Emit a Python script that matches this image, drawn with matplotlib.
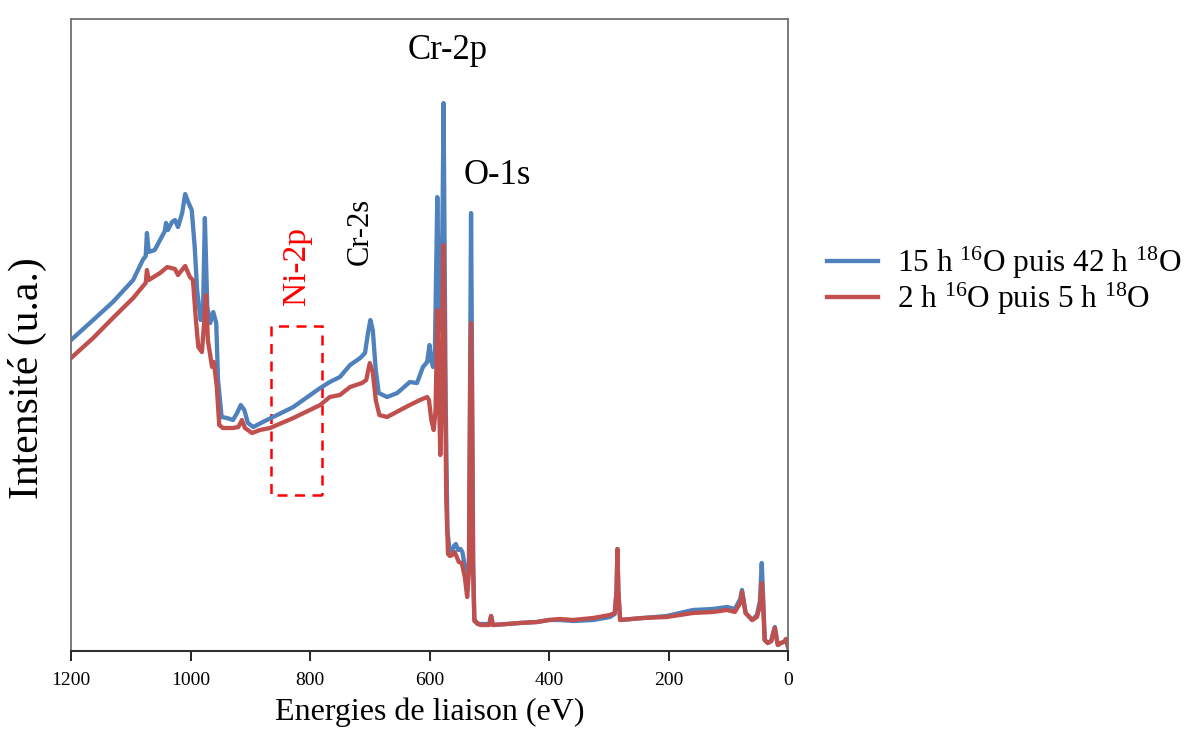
import matplotlib
matplotlib.use("Agg")
import matplotlib.pyplot as plt
from matplotlib.patches import Rectangle

plt.rcParams['font.family'] = ['Liberation Serif', 'DejaVu Serif']
plt.rcParams['mathtext.fontset'] = 'custom'
plt.rcParams['mathtext.rm'] = 'Liberation Serif'
plt.rcParams['mathtext.it'] = 'Liberation Serif:italic'

# binding energy (eV), intensity (a.u.)
energy_15h = [1200, 1163, 1130, 1096, 1080, 1075, 1073, 1070, 1060, 1051, 1043, 1041, 1038,
              1031, 1026, 1021, 1014, 1009, 1004, 998, 993, 989, 983, 979, 977, 976, 974,
              972, 967, 962, 957, 954, 948, 939, 929, 922, 916, 910, 904, 895, 879, 855,
              828, 783, 767, 750, 733, 716, 708, 703, 699, 695, 690, 685, 671, 654, 633,
              621, 611, 604, 600, 597, 594, 591, 589, 587, 585, 582, 580, 578, 576.5, 575,
              573, 570, 567, 563, 559, 556, 552, 548, 545, 541, 537, 534, 532, 530.5, 529,
              527, 525, 520, 510, 500, 497, 494, 470, 449, 420, 400, 382, 360, 326, 298,
              290, 287, 285.5, 284, 281, 243, 203, 159, 126, 102, 89, 80, 77, 74, 71, 60,
              52, 47, 44, 42, 39, 34, 28, 25, 22, 19, 17, 12, 7, 3, 0]
intens_15h = [311, 331, 349, 371, 391, 395, 418, 399, 401, 411, 420, 428, 421,
              429, 431, 424, 438, 457, 449, 441, 404, 361, 331, 344, 400, 433, 390,
              344, 328, 339, 328, 271, 234, 233, 231, 238, 246, 241, 228, 224, 229, 236,
              244, 263, 269, 274, 286, 293, 298, 318, 331, 321, 281, 258, 254, 258, 269,
              268, 284, 289, 306, 290, 284, 300, 380, 454, 380, 321, 340, 450, 548, 420,
              250, 120, 103, 100, 105, 107, 101, 102, 99, 85, 62, 90, 300, 438, 300,
              90, 32, 27, 27, 27, 35, 26, 27, 28, 29, 31, 31, 30, 31, 34,
              37, 60, 102, 60, 31, 33, 35, 41, 42, 44, 42, 52, 61, 50, 38, 31,
              36, 50, 88, 60, 11, 8, 10, 18, 24, 12, 6, 8, 9, 12, 4]

energy_2h = [1200, 1163, 1130, 1096, 1078, 1075, 1073, 1070, 1051, 1039, 1026, 1021, 1009,
             1001, 996, 991, 987, 981, 977, 974, 971, 964, 961, 956, 952, 946, 929, 920,
             914, 909, 897, 884, 867, 828, 783, 767, 750, 733, 713, 706, 700, 695, 690,
             684, 671, 649, 633, 616, 604, 601, 597, 593, 590, 588, 587, 585, 582, 580,
             578, 576.5, 575, 572, 569, 566, 562, 558, 555, 551, 546, 541, 537, 534, 532,
             530.5, 529, 527, 525, 515, 500, 497, 494, 470, 449, 420, 400, 382, 360, 326,
             298, 290, 287, 285.5, 284, 281, 243, 203, 159, 126, 102, 89, 80, 77, 74, 71,
             60, 52, 47, 44, 42, 39, 34, 28, 25, 22, 19, 17, 12, 7, 3, 0]
intens_2h = [293, 313, 333, 353, 366, 368, 381, 371, 378, 384, 382, 376, 385,
             374, 371, 331, 304, 299, 330, 356, 311, 284, 289, 264, 226, 223, 223, 224,
             231, 223, 218, 221, 223, 233, 246, 254, 256, 264, 268, 271, 288, 279, 251,
             236, 234, 241, 246, 251, 254, 251, 231, 221, 240, 300, 341, 280, 196, 240,
             350, 406, 330, 150, 97, 95, 96, 99, 95, 89, 88, 74, 54, 80, 250,
             328, 250, 80, 30, 26, 26, 35, 26, 27, 28, 29, 31, 32, 31, 33,
             36, 38, 60, 102, 60, 31, 33, 34, 38, 39, 41, 39, 48, 59, 48, 38,
             31, 34, 45, 68, 50, 11, 8, 10, 17, 23, 12, 6, 8, 9, 12, 4]

labels = ['15 h $^{16}$O puis 42 h $^{18}$O', '2 h $^{16}$O puis 5 h $^{18}$O']

fig = plt.figure(figsize=(11.9, 7.35), dpi=100)
ax = fig.add_axes([0.0597, 0.1143, 0.6025, 0.8598])

l1, = ax.plot(energy_15h, intens_15h, color='#4F81BD', lw=3.1, solid_joinstyle='round')
l2, = ax.plot(energy_2h, intens_2h, color='#C0504D', lw=3.1, solid_joinstyle='round')

ax.set_xlim(1200, 0)
ax.set_ylim(0, 632)
ax.set_xticks([1200, 1000, 800, 600, 400, 200, 0])
ax.set_yticks([])
ax.tick_params(axis='x', direction='out', length=7, width=1.2, labelsize=14, pad=8)
for side in ['top', 'right', 'left']:
    ax.spines[side].set_color('#707070')
    ax.spines[side].set_linewidth(1.3)
ax.spines['bottom'].set_color('#303030')
ax.spines['bottom'].set_linewidth(1.5)

ax.set_xlabel('Energies de liaison (eV)', fontsize=23, labelpad=6)
ax.set_ylabel('Intensité (u.a.)', fontsize=30)
ax.yaxis.set_label_coords(-0.033, 0.432)

ax.text(569, 601, 'Cr-2p', fontsize=25, ha='center', va='center')
ax.text(487, 476, 'O-1s', fontsize=25, ha='center', va='center')
ax.text(716, 420, 'Cr-2s', fontsize=22, ha='center', va='center', rotation=90)
ax.text(822, 385, 'Ni-2p', fontsize=24, ha='center', va='center', rotation=90, color='red')

# Ni-2p zone
ax.add_patch(Rectangle((780, 156), 85, 169, fill=False, ec='red', ls=(0, (4, 3)), lw=1.8))

fig.legend([l1, l2], labels, loc='center left', bbox_to_anchor=(0.671, 0.618),
           frameon=False, fontsize=22.5, handlelength=1.66, handletextpad=0.6,
           labelspacing=0.0)

fig.savefig('out.png', dpi=100)
